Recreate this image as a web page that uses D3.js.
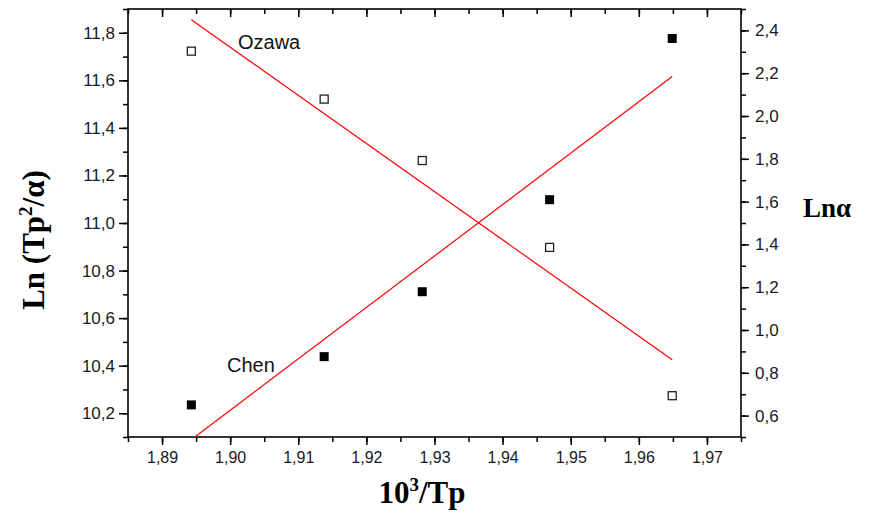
<!DOCTYPE html>
<html>
<head>
<meta charset="utf-8">
<script src="https://cdn.jsdelivr.net/npm/d3@7"></script>
<style>
  body { margin: 0; background: #fff; }
  svg { display: block; }
</style>
</head>
<body>
<div id="chart"></div>
<script>
// data
var xValues = [1.8943, 1.9138, 1.9282, 1.9469, 1.9649];
var ozawaValues = [2.303, 2.079, 1.792, 1.386, 0.693];      // Ln alpha, right axis
var chenValues = [10.235, 10.438, 10.711, 11.098, 11.776];  // Ln(Tp^2/alpha), left axis
var ozawaFit = [[1.8943, 2.450], [1.9649, 0.861]];
var chenFit = [[1.8943, 10.089], [1.9649, 11.616]];

var xTicks = [1.89, 1.90, 1.91, 1.92, 1.93, 1.94, 1.95, 1.96, 1.97];
var leftTicks = [10.2, 10.4, 10.6, 10.8, 11.0, 11.2, 11.4, 11.6, 11.8];
var rightTicks = [0.6, 0.8, 1.0, 1.2, 1.4, 1.6, 1.8, 2.0, 2.2, 2.4];

var width = 873, height = 513;
var margin = { top: 9, right: 132, bottom: 76, left: 128 };
var innerW = width - margin.left - margin.right;
var innerH = height - margin.top - margin.bottom;

var locale = d3.formatLocale({ decimal: ',', thousands: '.', grouping: [3], currency: ['', ''] });
var f1 = locale.format('.1f');
var f2 = locale.format('.2f');

var x = d3.scaleLinear().domain([1.885, 1.975]).range([0, innerW]);
var yL = d3.scaleLinear().domain([10.1, 11.9]).range([innerH, 0]);
var yR = d3.scaleLinear().domain([0.5, 2.5]).range([innerH, 0]);

var svg = d3.select('#chart').append('svg')
  .attr('width', width).attr('height', height);

svg.append('defs').append('clipPath').attr('id', 'plotclip')
  .append('rect').attr('width', innerW).attr('height', innerH);

var g = svg.append('g').attr('transform', 'translate(' + margin.left + ',' + margin.top + ')');

function minorTicks(scale, step) {
  var d = scale.domain(), out = [];
  for (var v = d[0]; v <= d[1] + 1e-9; v += step) out.push(+v.toFixed(4));
  return out;
}

function styleAxis(sel) {
  sel.select('.domain').remove();
  sel.selectAll('line').attr('stroke', '#000').attr('stroke-width', 1.5);
  sel.selectAll('text')
    .attr('font-family', 'Liberation Sans, Arial, sans-serif')
    .attr('fill', '#1a1a1a');
}

// minor ticks
g.append('g').attr('transform', 'translate(0,' + innerH + ')')
  .call(d3.axisBottom(x).tickValues(minorTicks(x, 0.005)).tickSize(5).tickFormat(''))
  .call(styleAxis);
g.append('g')
  .call(d3.axisTop(x).tickValues(minorTicks(x, 0.005)).tickSize(-5).tickFormat(''))
  .call(styleAxis);
g.append('g')
  .call(d3.axisLeft(yL).tickValues(minorTicks(yL, 0.1)).tickSize(5).tickFormat(''))
  .call(styleAxis);
g.append('g').attr('transform', 'translate(' + innerW + ',0)')
  .call(d3.axisRight(yR).tickValues(minorTicks(yR, 0.1)).tickSize(5).tickFormat(''))
  .call(styleAxis);

// major ticks
var xAxis = g.append('g').attr('transform', 'translate(0,' + innerH + ')')
  .call(d3.axisBottom(x).tickValues(xTicks).tickSize(8).tickPadding(7).tickFormat(f2))
  .call(styleAxis);
xAxis.selectAll('text').attr('font-size', 16);

g.append('g')
  .call(d3.axisTop(x).tickValues(xTicks).tickSize(-8).tickFormat(''))
  .call(styleAxis);

var leftAxis = g.append('g')
  .call(d3.axisLeft(yL).tickValues(leftTicks).tickSize(9).tickPadding(4).tickFormat(f1))
  .call(styleAxis);
leftAxis.selectAll('text').attr('font-size', 17);

var rightAxis = g.append('g').attr('transform', 'translate(' + innerW + ',0)')
  .call(d3.axisRight(yR).tickValues(rightTicks).tickSize(8).tickPadding(6).tickFormat(f1))
  .call(styleAxis);
rightAxis.selectAll('text').attr('font-size', 17);

// frame
g.append('rect').attr('width', innerW).attr('height', innerH)
  .attr('fill', 'none').attr('stroke', '#000').attr('stroke-width', 1.6);

// fit lines
var plot = g.append('g').attr('clip-path', 'url(#plotclip)');
plot.append('path').datum(ozawaFit)
  .attr('d', d3.line().x(function (d) { return x(d[0]); }).y(function (d) { return yR(d[1]); }))
  .attr('fill', 'none').attr('stroke', '#ff0000').attr('stroke-width', 1.2);
plot.append('path').datum(chenFit)
  .attr('d', d3.line().x(function (d) { return x(d[0]); }).y(function (d) { return yL(d[1]); }))
  .attr('fill', 'none').attr('stroke', '#ff0000').attr('stroke-width', 1.2);

// markers
var ozawaPts = xValues.map(function (v, i) { return [v, ozawaValues[i]]; });
var chenPts = xValues.map(function (v, i) { return [v, chenValues[i]]; });

g.selectAll('rect.ozawa').data(ozawaPts).enter().append('rect')
  .attr('class', 'ozawa')
  .attr('x', function (d) { return x(d[0]) - 4; })
  .attr('y', function (d) { return yR(d[1]) - 4; })
  .attr('width', 8).attr('height', 8)
  .attr('fill', '#fff').attr('stroke', '#222').attr('stroke-width', 1.3);

g.selectAll('rect.chen').data(chenPts).enter().append('rect')
  .attr('class', 'chen')
  .attr('x', function (d) { return x(d[0]) - 4.5; })
  .attr('y', function (d) { return yL(d[1]) - 4.5; })
  .attr('width', 9).attr('height', 9)
  .attr('fill', '#000');

// series labels
g.append('text').attr('x', 110).attr('y', 40)
  .attr('font-family', 'Liberation Sans, Arial, sans-serif').attr('font-size', 20)
  .attr('fill', '#111').text('Ozawa');
g.append('text').attr('x', 99).attr('y', 363)
  .attr('font-family', 'Liberation Sans, Arial, sans-serif').attr('font-size', 20)
  .attr('fill', '#111').text('Chen');

// axis titles
var serif = 'Liberation Serif, Times New Roman, serif';
var xt = svg.append('text')
  .attr('x', 422).attr('y', 503)
  .attr('text-anchor', 'middle')
  .attr('font-family', serif).attr('font-weight', 'bold').attr('font-size', 31);
xt.append('tspan').text('10');
xt.append('tspan').attr('font-size', 19).attr('dy', -12).text('3');
xt.append('tspan').attr('dy', 12).text('/Tp');

var yt = svg.append('text')
  .attr('transform', 'translate(44,240) rotate(-90)')
  .attr('text-anchor', 'middle')
  .attr('font-family', serif).attr('font-weight', 'bold').attr('font-size', 31);
yt.append('tspan').text('Ln (Tp');
yt.append('tspan').attr('font-size', 19).attr('dy', -12).text('2');
yt.append('tspan').attr('dy', 12).text('/\u03b1)');

svg.append('text')
  .attr('x', 803).attr('y', 217)
  .attr('font-family', serif).attr('font-weight', 'bold').attr('font-size', 27)
  .text('Ln\u03b1');
</script>
</body>
</html>
